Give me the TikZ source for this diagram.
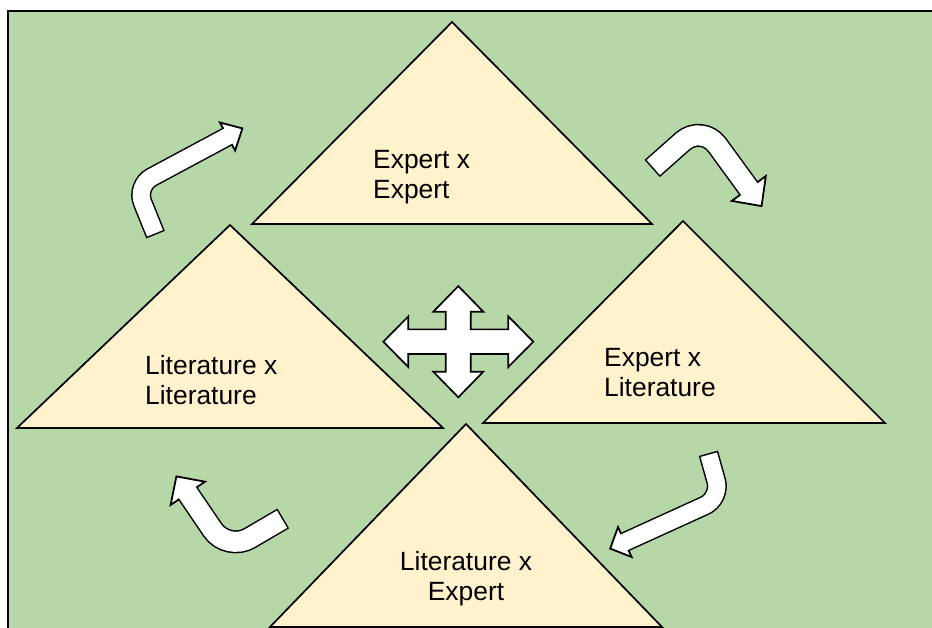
\documentclass[tikz,border=0pt]{standalone}
\usepackage{fontspec}
\setmainfont{Liberation Sans}
\definecolor{bggreen}{HTML}{B6D7A8}
\definecolor{trifill}{HTML}{FFF2CC}
\newcommand\myBentArrow[8]{%
  % #1 tail, #2 corner, #3 head mid, #4 tip, #5 barb a, #6 barb b, #7 shaft width, #8 radius
  \draw[black,line width=#7pt+3pt,rounded corners=#8pt,shorten <=-1.5pt] (#1) -- (#2) -- (#3);
  \filldraw[fill=white,draw=black,line width=1.8pt,line join=miter] (#5) -- (#4) -- (#6) -- cycle;
  \draw[white,line width=#7pt,rounded corners=#8pt,shorten >=-2.5pt] (#1) -- (#2) -- (#3);
}
\begin{document}
\begin{tikzpicture}[x=1pt,y=-1pt,
  tri/.style={fill=trifill,draw=black,line width=1.7pt,line join=miter},
  lbl/.style={font=\fontsize{26.4}{30}\selectfont,inner sep=0pt},
  cross/.style={fill=white,draw=black,line width=1.7pt,line join=miter}]
\useasboundingbox (0,0) rectangle (932,628);
\clip (0,0) rectangle (932,628);
\filldraw[fill=bggreen,draw=black,line width=2.2pt] (8,11) rectangle (960,660);

% triangles
\draw[tri] (452,22) -- (652,224) -- (252,224) -- cycle;
\draw[tri] (230,225) -- (443,428) -- (17,428) -- cycle;
\draw[tri] (683,221) -- (885,423) -- (483,423) -- cycle;
\draw[tri] (466,424) -- (662,627) -- (270,627) -- cycle;

% labels (anchor = baseline of the last line)
\node[lbl,align=left,anchor=base west] (tTop) at (373,199) {Expert x\\Expert};
\node[lbl,align=left,anchor=base west] (tLeft) at (145,404) {Literature x\\Literature};
\node[lbl,align=left,anchor=base west] (tRight) at (604,396) {Expert x\\Literature};
\node[lbl,align=center,anchor=base] (tBottom) at (466,600) {Literature x\\Expert};

% bent arrows
\coordinate (a1t) at (155,233.3);
\coordinate (a1c) at (135.8,185.7);
\coordinate (a1m) at (227.5,136.5);
\coordinate (a1p) at (242.4,128.4);
\coordinate (a1b) at (235.1,150.5);
\coordinate (a1d) at (219.9,122.5);
\myBentArrow{a1t}{a1c}{a1m}{a1p}{a1b}{a1d}{17}{18}

\coordinate (a2t) at (653.3,167.5);
\coordinate (a2c) at (702,124.3);
\coordinate (a2m) at (748.8,188.5);
\coordinate (a2p) at (761.6,206.1);
\coordinate (a2b) at (765.8,176.1);
\coordinate (a2d) at (731.8,200.9);
\myBentArrow{a2t}{a2c}{a2m}{a2p}{a2b}{a2d}{20}{26}

\coordinate (a3t) at (708.8,454.7);
\coordinate (a3c) at (721,498.2);
\coordinate (a3m) at (624.8,542);
\coordinate (a3p) at (610.2,548.6);
\coordinate (a3b) at (631.6,557);
\coordinate (a3d) at (618,527);
\myBentArrow{a3t}{a3c}{a3m}{a3p}{a3b}{a3d}{17}{18}

\coordinate (a4t) at (282,519.2);
\coordinate (a4c) at (227.2,551.3);
\coordinate (a4m) at (187.8,493.3);
\coordinate (a4p) at (176.4,476.4);
\coordinate (a4b) at (205,481.7);
\coordinate (a4d) at (170.6,505);
\myBentArrow{a4t}{a4c}{a4m}{a4p}{a4b}{a4d}{20}{26}

% four-way arrow
\begin{scope}[shift={(458.3,341.7)}]
\draw[cross] (0,-55.6) -- (25,-30) -- (12.5,-30) -- (12.5,-12.3) -- (50,-12.3) -- (50,-25.3) -- (75,0) -- (50,25.3) -- (50,12.3) -- (12.5,12.3) -- (12.5,30) -- (25,30) -- (0,55.6) -- (-25,30) -- (-12.5,30) -- (-12.5,12.3) -- (-50,12.3) -- (-50,25.3) -- (-75,0) -- (-50,-25.3) -- (-50,-12.3) -- (-12.5,-12.3) -- (-12.5,-30) -- (-25,-30) -- cycle;
\end{scope}
\end{tikzpicture}
\end{document}
